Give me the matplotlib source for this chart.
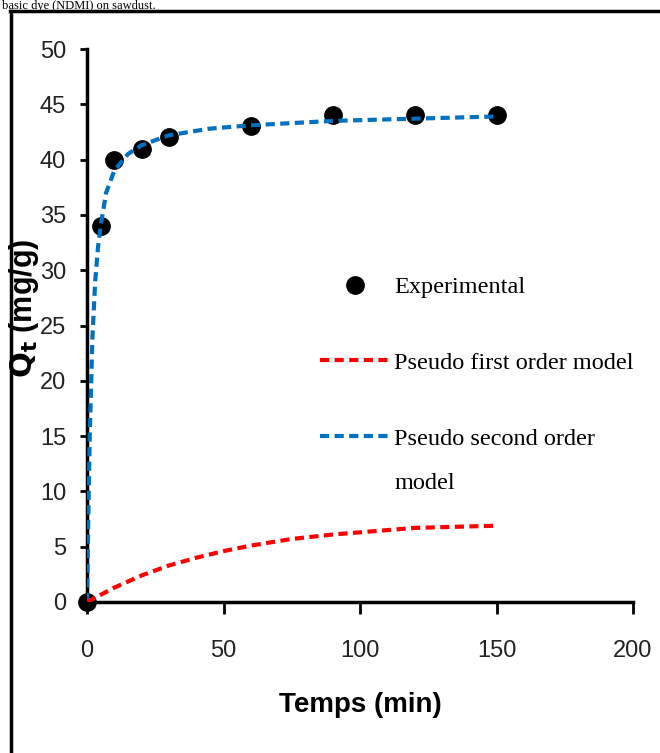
"""Adsorption kinetics: experimental uptake vs. pseudo first/second order fits."""

import matplotlib.pyplot as plt
from matplotlib.lines import Line2D

# experimental uptake
t_exp = [0, 5, 10, 20, 30, 60, 90, 120, 150]
q_exp = [0, 34, 40, 41, 42, 43, 44, 44, 44]

# pseudo first order fit
t_pfo = [0, 10, 20, 30, 40, 50, 60, 75, 90, 105, 120, 135, 150]
q_pfo = [0, 1.3, 2.4, 3.3, 4.0, 4.6, 5.1, 5.7, 6.1, 6.4, 6.7, 6.8, 6.9]

# pseudo second order fit
t_pso = [0, 0.5, 1, 2, 3, 4, 5, 7, 10, 15, 20, 30, 45, 60, 90, 120, 150]
q_pso = [0, 8, 15, 24, 29, 32, 34, 37, 39, 40.5, 41.3, 42.2, 42.8, 43.1, 43.5, 43.7, 43.9]

x_ticks = [0, 50, 100, 150, 200]
y_ticks = list(range(0, 51, 5))

RED = "#ff0000"
BLUE = "#0070c0"
DASH = (0, (2.2, 1.3))
SANS = ["Liberation Sans", "DejaVu Sans"]
SERIF = ["Liberation Serif", "DejaVu Serif"]

fig = plt.figure(figsize=(6.6, 7.53), dpi=100)
W, H = 660, 753
x0, x1, y0, y1 = 87, 633, 602, 49  # axes box in pixels
aw, ah = x1 - x0, y0 - y1
ax = fig.add_axes([x0 / W, 1 - y0 / H, aw / W, ah / H])

ax.plot(t_pso, q_pso, color=BLUE, lw=3, ls=DASH, zorder=3)
ax.plot(t_pfo, q_pfo, color=RED, lw=3, ls=DASH, zorder=3)
ax.plot(t_exp, q_exp, "o", color="black", ms=12.5, zorder=2, clip_on=False)

ax.set_xlim(0, 200)
ax.set_ylim(0, 50)
ax.set_xticks(x_ticks)
ax.set_yticks(y_ticks)
for s in ("top", "right"):
    ax.spines[s].set_visible(False)
for s in ("left", "bottom"):
    ax.spines[s].set_linewidth(2.5)
ax.tick_params(axis="x", width=2, length=8.5, direction="out", labelsize=17, pad=19)
ax.tick_params(axis="y", width=2, length=5, direction="out", labelsize=17, pad=10)
for lab in ax.get_xticklabels() + ax.get_yticklabels():
    lab.set_family(SANS)
    lab.set_color("#222222")

ax.set_xlabel("Temps (min)", fontsize=20, fontweight="bold", family=SANS)
ax.set_ylabel(r"$\mathbf{Q_t}$ (mg/g)", fontsize=22, fontweight="bold", family=SANS)
ax.xaxis.set_label_coords((360 - x0) / aw, -(692 - y0) / ah)
ax.yaxis.set_label_coords(-(x0 - 41) / aw, (y0 - 308) / ah)

handles = [
    Line2D([], [], ls="none", marker="o", color="black", ms=12.5),
    Line2D([], [], color=RED, lw=3, ls=DASH),
    Line2D([], [], color=BLUE, lw=3, ls=DASH),
]
labels = ["Experimental", "Pseudo first order model", "Pseudo second order"]
leg = ax.legend(handles, labels, loc="upper left",
                bbox_to_anchor=((320 - x0) / aw, (y0 - 276) / ah),
                frameon=False, prop={"family": SERIF, "size": 17.5},
                handlelength=2.9, handletextpad=0.15, labelspacing=2.22,
                borderpad=0, borderaxespad=0)

# second line of the last legend label, set under its first line
fig.canvas.draw()
bb = leg.get_texts()[2].get_window_extent()
fig.text(bb.x0 / W, (bb.y0 - 44) / H, "model", family=SERIF, fontsize=17.5,
         ha="left", va="bottom")

# surrounding frame (left and top edges)
fig.add_artist(Line2D([11 / W, 11 / W], [0, 1 - 11 / H], color="black", lw=2.5,
                      transform=fig.transFigure))
fig.add_artist(Line2D([10 / W, 1], [1 - 11 / H, 1 - 11 / H], color="black", lw=2.5,
                      transform=fig.transFigure))
fig.text(2 / W, 1 - 0.5 / H, "basic dye (NDMI) on sawdust.", family=SERIF, fontsize=9,
         va="top", ha="left")

fig.savefig("out.png", dpi=100)
